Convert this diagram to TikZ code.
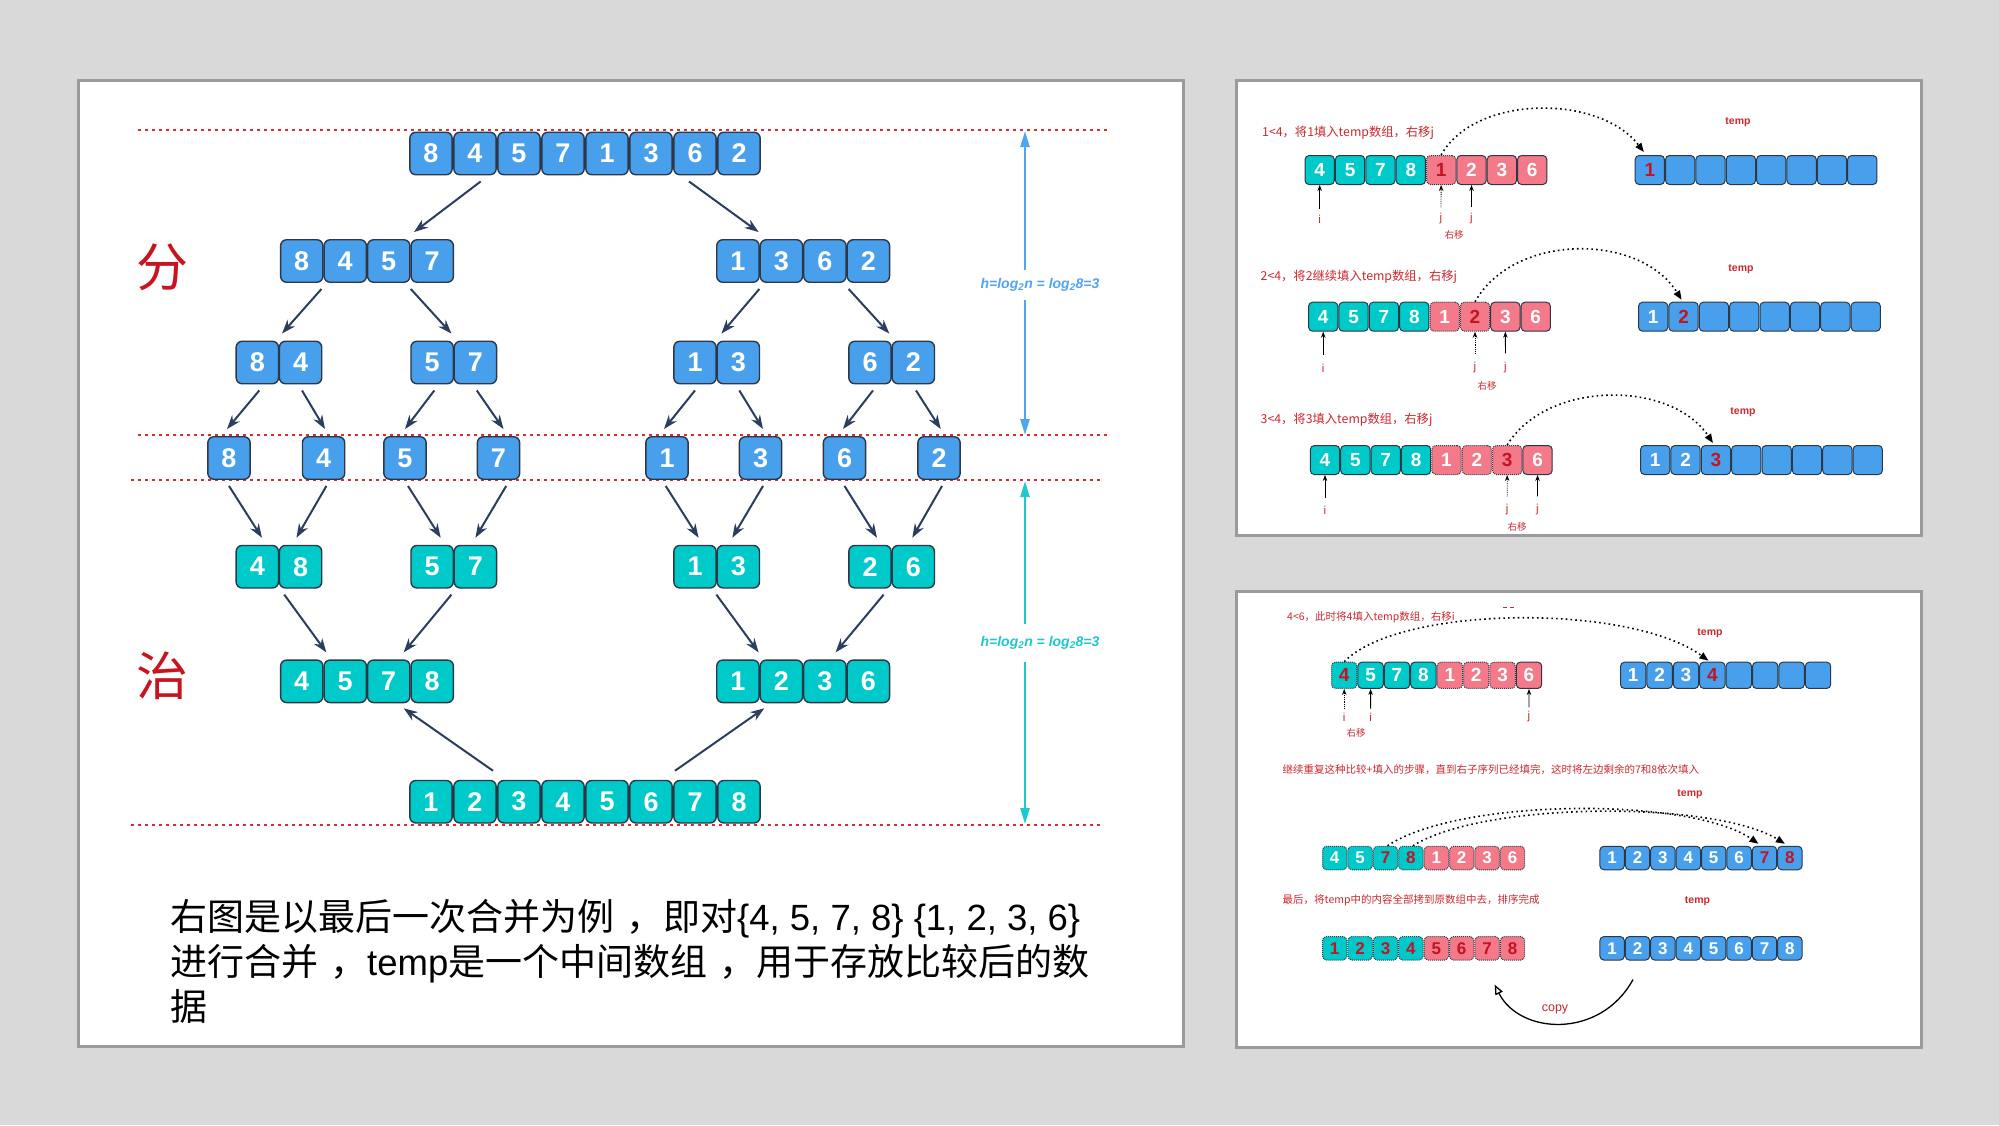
\documentclass[tikz,border=0pt]{standalone}
\usepackage{fontspec}
\setmainfont{Liberation Sans}
\newfontfamily\cjk{Noto Sans CJK SC}
\usetikzlibrary{arrows.meta}
\definecolor{bgc}{RGB}{217,217,217}
\definecolor{pbord}{RGB}{155,155,155}
\definecolor{bluebx}{RGB}{72,160,236}
\definecolor{cyanbx}{RGB}{0,201,201}
\definecolor{pinkbx}{RGB}{244,122,137}
\definecolor{bxline}{RGB}{45,55,70}
\definecolor{navy}{RGB}{44,62,96}
\definecolor{dotred}{RGB}{220,45,45}
\definecolor{hblue}{RGB}{80,165,240}
\definecolor{hcyan}{RGB}{30,200,205}
\definecolor{capred}{RGB}{205,40,45}
\definecolor{numred}{RGB}{195,20,35}
\definecolor{kanred}{RGB}{200,20,30}
\newcommand{\tar}[4]{\draw[tarr] ([xshift=#2pt,yshift=-6pt]#1.south) -- ([xshift=#4pt,yshift=7pt]#3.north);}
\newcommand{\ck}[1]{{\cjk\fontsize{37}{37}\selectfont #1}}
\newcommand{\wcomma}{\hspace{12pt}\ck{，}}
\begin{document}
\begin{tikzpicture}[x=1pt,y=-1pt,
  panel/.style={draw=pbord, line width=3pt, fill=white},
  tb/.style={draw=bxline, line width=1.4pt, rounded corners=6pt, minimum width=42.3pt, minimum height=42.5pt, inner sep=0pt, text=white, font=\fontsize{27}{27}\selectfont\bfseries},
  tbB/.style={tb, fill=bluebx},
  tbC/.style={tb, fill=cyanbx},
  tarr/.style={draw=navy, line width=2pt, -{Stealth[length=14pt,width=10pt]}},
  rdots/.style={draw=dotred, line width=2.6pt, dash pattern=on 2.6pt off 4.4pt},
  harrB/.style={draw=hblue, line width=2.4pt, -{Triangle[length=16pt,width=9pt]}},
  harrC/.style={draw=hcyan, line width=2.4pt, -{Triangle[length=16pt,width=9pt]}},
  hlab/.style={font=\fontsize{14}{14}\selectfont\bfseries\itshape, inner sep=0pt},
  kan/.style={text=kanred, font=\cjk\fontsize{52}{52}\selectfont},
  btxt/.style={anchor=base west, inner sep=0pt, font=\fontsize{36.5}{36.5}\selectfont},
  rb/.style={draw=bxline, line width=1pt, rounded corners=4pt, inner sep=0pt, text=white},
  rsA/.style={rb, minimum width=29.3pt, minimum height=29pt, font=\fontsize{19}{19}\selectfont\bfseries},
  rsB/.style={rb, minimum width=25.4pt, minimum height=26.3pt, font=\fontsize{19}{19}\selectfont\bfseries},
  rsC/.style={rb, minimum width=24.4pt, minimum height=23.5pt, font=\fontsize{17}{17}\selectfont\bfseries},
  fC/.style={fill=cyanbx}, fP/.style={fill=pinkbx}, fB/.style={fill=bluebx},
  fCd/.style={fill=cyanbx, densely dotted}, fPd/.style={fill=pinkbx, densely dotted},
  fCdr/.style={fCd, text=numred}, fPdr/.style={fPd, text=numred}, fBr/.style={fB, text=numred},
  capbase/.style={anchor=west, inner sep=0pt, text=capred},
  capA/.style={capbase, font=\cjk\fontsize{12.3}{12.3}\selectfont},
  capB/.style={capbase, font=\cjk\fontsize{10.5}{10.5}\selectfont},
  tmpl/.style={text=capred, inner sep=0pt, font=\fontsize{10.5}{10.5}\selectfont\bfseries},
  ptl/.style={text=capred, inner sep=1pt, font=\fontsize{11.5}{11.5}\selectfont},
  yiy/.style={text=capred, inner sep=0pt, font=\cjk\fontsize{9.5}{9.5}\selectfont},
  parr/.style={draw=black, line width=0.8pt, -{Stealth[length=6pt,width=4.5pt]}},
  parrd/.style={parr, densely dotted},
  carr/.style={draw=black, line width=1.6pt, dash pattern=on 1.6pt off 3.2pt, -{Triangle[length=9pt,width=7pt]}},
  copyarr/.style={draw=black, line width=1.3pt, -{Triangle[open,length=10pt,width=8pt]}}
]
\fill[bgc] (0,0) rectangle (1999,1125);
\useasboundingbox (0,0) rectangle (1999,1125);
% panels
\draw[panel] (78,80) rectangle (1183,1046);
\draw[panel] (1236,80) rectangle (1921,535);
\draw[panel] (1236,591) rectangle (1921,1047);

% ---------------- left panel ----------------
\draw[rdots] (138,130) -- (1107,130);
\draw[rdots] (138,435) -- (1107,435);
\draw[rdots] (131,480) -- (1101,480);
\draw[rdots] (131,825) -- (1101,825);

\foreach \v [count=\i] in {8,4,5,7,1,3,6,2}
  \node[tbB] (r0-\i) at ({431+44*(\i-1)},153.5) {\v};
\foreach \v [count=\i] in {8,4,5,7}
  \node[tbB] (la-\i) at ({301.75+43.5*(\i-1)},261) {\v};
\foreach \v [count=\i] in {1,3,6,2}
  \node[tbB] (lb-\i) at ({737.9+43.5*(\i-1)},261) {\v};
\foreach \n/\x/\u/\w in {pa/257.3/8/4, pb/432.1/5/7, pc/695/1/3, pd/870/6/2}{
  \node[tbB] (\n-1) at (\x,362.5) {\u};
  \node[tbB] (\n-2) at (\x+43.3,362.5) {\w};
}
\foreach \v/\x [count=\i] in {8/229,4/323.6,5/405,7/498.5,1/667,3/760.5,6/844.5,2/939}
  \node[tbB] (s-\i) at (\x,458) {\v};
\foreach \n/\x/\u/\w in {qa/257.3/4/8, qb/432.1/5/7, qc/695/1/3, qd/870/2/6}{
  \node[tbC] (\n-1) at (\x,566.7) {\u};
  \node[tbC] (\n-2) at (\x+43.3,566.7) {\w};
}
\foreach \v [count=\i] in {4,5,7,8}
  \node[tbC] (ma-\i) at ({301.75+43.5*(\i-1)},681.3) {\v};
\foreach \v [count=\i] in {1,2,3,6}
  \node[tbC] (mb-\i) at ({737.9+43.5*(\i-1)},681.3) {\v};
\foreach \v [count=\i] in {1,2,3,4,5,6,7,8}
  \node[tbC] (bt-\i) at ({431+44*(\i-1)},801.7) {\v};

% tree arrows
\tar{r0-2}{5.7}{la-4}{-18.25}
\tar{r0-7}{-6}{lb-1}{20.7}
\tar{la-1}{19.7}{pa-1}{24.7}
\tar{la-3}{22}{pb-1}{19.3}
\tar{lb-2}{-22}{pc-1}{26.4}
\tar{lb-4}{-19.8}{pd-1}{19.3}
\tar{pa-1}{2}{s-1}{-2}
\tar{pa-2}{1.4}{s-2}{1.4}
\tar{pb-1}{2.2}{s-3}{0}
\tar{pb-2}{1.4}{s-4}{5}
\tar{pc-1}{0}{s-5}{-3}
\tar{pc-2}{1}{s-6}{2.5}
\tar{pd-1}{3}{s-7}{-1.5}
\tar{pd-2}{2.7}{s-8}{1.7}
\tar{s-1}{0}{qa-1}{4.7}
\tar{s-2}{2.8}{qa-2}{-4.2}
\tar{s-3}{3}{qb-1}{8.6}
\tar{s-4}{7.7}{qb-2}{0}
\tar{s-5}{-1.3}{qc-1}{3.6}
\tar{s-6}{2.5}{qc-2}{-6}
\tar{s-7}{0}{qd-1}{7}
\tar{s-8}{3}{qd-2}{-1}
\tar{qa-2}{-16.3}{ma-2}{-18.9}
\tar{qb-1}{19.3}{ma-3}{14.9}
\tar{qc-1}{21.4}{mb-1}{20.7}
\tar{qd-1}{13.6}{mb-3}{10.7}
\draw[tarr] ([xshift=18pt,yshift=9pt]bt-2.north) -- ([xshift=14.9pt,yshift=-5pt]ma-3.south);
\draw[tarr] ([xshift=24pt,yshift=9pt]bt-6.north) -- ([xshift=26.4pt,yshift=-5pt]mb-1.south);

% height arrows
\node[hlab, text=hblue, minimum height=30pt] (hl1) at (1040,285) {h=log\textsubscript{2}n = log\textsubscript{2}8=3};
\coordinate (h1t) at (1025,131);
\coordinate (h1b) at (1025,435);
\draw[harrB] (h1t |- hl1.north) -- (h1t);
\draw[harrB] (h1b |- hl1.south) -- (h1b);
\node[hlab, text=hcyan, minimum height=38pt] (hl2) at (1040,643) {h=log\textsubscript{2}n = log\textsubscript{2}8=3};
\coordinate (h2t) at (1025,481);
\coordinate (h2b) at (1025,824);
\draw[harrC] (h2t |- hl2.north) -- (h2t);
\draw[harrC] (h2b |- hl2.south) -- (h2b);

\node[kan] (fen) at (162,267) {分};
\node[kan] (zhi) at (162,676) {治};

\node[btxt] (txt1) at (170,930) {\ck{右图是以最后一次合并为例}\wcomma\ck{即对}\{4, 5, 7, 8\} \{1, 2, 3, 6\}};
\node[btxt] (txt2) at (170,975) {\ck{进行合并}\wcomma temp\ck{是一个中间数组}\wcomma\ck{用于存放比较后的数}};
\node[btxt] (txt3) at (170,1020) {\ck{据}};

% ---------------- right top panel ----------------
% step 1
\node[capA] (c1) at (1262,133) {1<4，将1填入temp数组，右移j};
\node[tmpl] (tl1) at (1738,122) {temp};
\foreach \v/\o [count=\i] in {4/fC,5/fC,7/fC,8/fC,1/fPdr,2/fP,3/fP,6/fP}
  \node[rsA,\o] (s1a-\i) at ({1319.7+30.36*(\i-1)},170) {\v};
\foreach \v/\o [count=\i] in {1/fBr,{}/fB,{}/fB,{}/fB,{}/fB,{}/fB,{}/fB,{}/fB}
  \node[rsA,\o] (s1t-\i) at ({1649.8+30.36*(\i-1)},170) {\v};
\node[ptl] (s1i) at (1319.7,219) {i};
\node[ptl] (s1j1) at (1441,219) {j};
\node[ptl] (s1j2) at (1471.5,219) {j};
\node[yiy] (s1y) at (1454,235) {右移};
\draw[parr, shorten <=5pt] (s1i.north) -- (s1a-1.south);
\draw[parrd, shorten <=5pt] (s1j1.north) -- (s1a-5.south);
\draw[parr, shorten <=5pt] (s1j2.north) -- (s1a-6.south);
\draw[carr] (s1a-5.north) .. controls +(34,-61) and +(-44,-57.7) .. ([xshift=-6pt,yshift=3pt]s1t-1.north);

% step 2
\node[capA] (c2) at (1260.5,277.3) {2<4，将2继续填入temp数组，右移j};
\node[tmpl] (tl2) at (1741,269) {temp};
\foreach \v/\o [count=\i] in {4/fC,5/fC,7/fC,8/fC,1/fPd,2/fPdr,3/fP,6/fP}
  \node[rsA,\o] (s2a-\i) at ({1323.2+30.36*(\i-1)},316.7) {\v};
\foreach \v/\o [count=\i] in {1/fB,2/fBr,{}/fB,{}/fB,{}/fB,{}/fB,{}/fB,{}/fB}
  \node[rsA,\o] (s2t-\i) at ({1653.2+30.36*(\i-1)},316.7) {\v};
\node[ptl] (s2i) at (1323.2,368) {i};
\node[ptl] (s2j1) at (1475,368) {j};
\node[ptl] (s2j2) at (1505.4,368) {j};
\node[yiy] (s2y) at (1487,386) {右移};
\draw[parr, shorten <=8pt] (s2i.north) -- (s2a-1.south);
\draw[parrd, shorten <=8pt] (s2j1.north) -- (s2a-6.south);
\draw[parr, shorten <=8pt] (s2j2.north) -- (s2a-7.south);
\draw[carr] (s2a-6.north) .. controls +(39,-69) and +(-42,-67) .. ([xshift=-2pt,yshift=2pt]s2t-2.north);

% step 3
\node[capA] (c3) at (1260.5,420) {3<4，将3填入temp数组，右移j};
\node[tmpl] (tl3) at (1743,412.3) {temp};
\foreach \v/\o [count=\i] in {4/fC,5/fC,7/fC,8/fC,1/fPd,2/fPd,3/fPdr,6/fP}
  \node[rsA,\o] (s3a-\i) at ({1325+30.36*(\i-1)},460) {\v};
\foreach \v/\o [count=\i] in {1/fB,2/fB,3/fBr,{}/fB,{}/fB,{}/fB,{}/fB,{}/fB}
  \node[rsA,\o] (s3t-\i) at ({1655.2+30.36*(\i-1)},460) {\v};
\node[ptl] (s3i) at (1325,510) {i};
\node[ptl] (s3j1) at (1507.2,510) {j};
\node[ptl] (s3j2) at (1537.5,510) {j};
\node[yiy] (s3y) at (1517,527) {右移};
\draw[parr, shorten <=7pt] (s3i.north) -- (s3a-1.south);
\draw[parrd, shorten <=7pt] (s3j1.north) -- (s3a-7.south);
\draw[parr, shorten <=7pt] (s3j2.north) -- (s3a-8.south);
\draw[carr] (s3a-7.north) .. controls +(40,-65) and +(-42,-63) .. ([xshift=-3pt,yshift=2pt]s3t-3.north);

% ---------------- right bottom panel ----------------
\node[capB] (c4) at (1287,617.3) {4<6，此时将4填入temp数组，右移i};
\draw[capred, line width=0.8pt, dash pattern=on 4pt off 3pt] (1503,607) -- (1517,607);
\node[tmpl] (tl4) at (1710,632.7) {temp};
\foreach \v/\o [count=\i] in {4/fCdr,5/fC,7/fC,8/fC,1/fPd,2/fPd,3/fPd,6/fP}
  \node[rsB,\o] (s4a-\i) at ({1344.2+26.4*(\i-1)},675.3) {\v};
\foreach \v/\o [count=\i] in {1/fB,2/fB,3/fB,4/fBr,{}/fB,{}/fB,{}/fB,{}/fB}
  \node[rsB,\o] (s4t-\i) at ({1633.2+26.4*(\i-1)},675.3) {\v};
\node[ptl] (s4i1) at (1344.2,717) {i};
\node[ptl] (s4i2) at (1370.6,717) {i};
\node[ptl] (s4j) at (1529,717) {j};
\node[yiy] (s4y) at (1356,733) {右移};
\draw[parrd, shorten <=3pt] (s4i1.north) -- (s4a-1.south);
\draw[parr, shorten <=3pt] (s4i2.north) -- (s4a-2.south);
\draw[parr, shorten <=3pt] (s4j.north) -- (s4a-8.south);
\draw[carr] (s4a-1.north) .. controls +(56,-57) and +(-78,-57) .. ([xshift=-4pt,yshift=1pt]s4t-4.north);

% step 5
\node[capB] (c5) at (1282.5,770) {继续重复这种比较+填入的步骤，直到右子序列已经填完，这时将左边剩余的7和8依次填入};
\node[tmpl] (tl5) at (1690,794) {temp};
\foreach \v/\o [count=\i] in {4/fCd,5/fCd,7/fCdr,8/fCdr,1/fPd,2/fPd,3/fPd,6/fPd}
  \node[rsC,\o] (s5a-\i) at ({1334.7+25.4*(\i-1)},858) {\v};
\foreach \v/\o [count=\i] in {1/fB,2/fB,3/fB,4/fB,5/fB,6/fB,7/fBr,8/fBr}
  \node[rsC,\o] (s5t-\i) at ({1612.1+25.4*(\i-1)},858) {\v};
\draw[carr] ([xshift=2pt]s5a-3.north) .. controls +(72,-48) and +(-68,-47) .. ([xshift=-6pt,yshift=2pt]s5t-7.north);
\draw[carr] ([xshift=2pt]s5a-4.north) .. controls +(72,-45) and +(-70,-43) .. ([xshift=-5pt,yshift=2pt]s5t-8.north);

% step 6
\node[capB] (c6) at (1282.5,900.7) {最后，将temp中的内容全部拷到原数组中去，排序完成};
\node[tmpl] (tl6) at (1697.5,900.7) {temp};
\foreach \v/\o [count=\i] in {1/fCdr,2/fCdr,3/fCdr,4/fCdr,5/fPdr,6/fPdr,7/fPdr,8/fPdr}
  \node[rsC,\o] (s6a-\i) at ({1334.7+25.4*(\i-1)},948.3) {\v};
\foreach \v/\o [count=\i] in {1/fB,2/fB,3/fB,4/fB,5/fB,6/fB,7/fB,8/fB}
  \node[rsC,\o] (s6t-\i) at ({1612.1+25.4*(\i-1)},948.3) {\v};
\draw[copyarr] ([xshift=-4.5pt,yshift=-19pt]s6t-2.south) .. controls +(-33,60) and +(25,50) .. ([xshift=7.5pt,yshift=-24pt]s6a-7.south);
\node[text=capred, inner sep=0pt, font=\fontsize{12.5}{12.5}\selectfont] (cpy) at (1555,1009) {copy};
\end{tikzpicture}
\end{document}
